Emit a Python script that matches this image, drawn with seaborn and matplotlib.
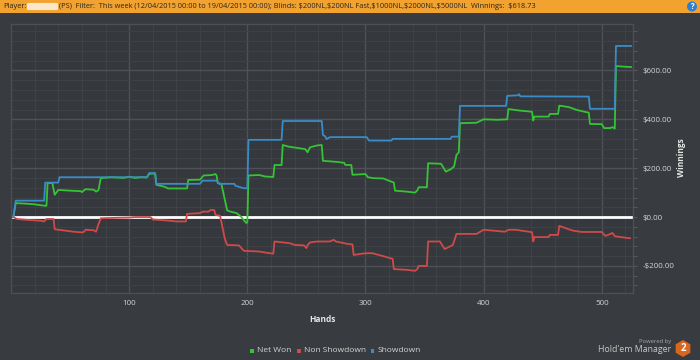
import matplotlib
matplotlib.use('Agg')
import matplotlib.pyplot as plt
from matplotlib.patches import Rectangle, RegularPolygon, Circle, FancyBboxPatch
from matplotlib.ticker import FuncFormatter, MultipleLocator
import pandas as pd
import seaborn as sns

# Net Won (green)
nw_hands = [0, 2, 4, 12, 20, 29, 30, 31, 35, 37, 40, 50, 59, 60, 63, 70, 72, 74, 76, 85, 95,
            100, 105, 110, 115, 117, 122, 123, 130, 133, 149, 150, 160, 163, 170, 173, 174,
            175, 178, 183, 186, 191, 195, 199, 200, 201, 210, 215, 222, 223, 229, 230, 235,
            249, 251, 253, 259, 263, 264, 270, 275, 282, 283, 288, 289, 300, 302, 307, 315,
            324, 325, 335, 342, 344, 345, 352, 353, 364, 368, 372, 375, 377, 379, 380, 394,
            400, 412, 420, 421, 430, 441, 442, 443, 455, 456, 463, 464, 472, 479, 489, 490,
            500, 502, 507, 509, 511, 512, 520, 525]
nw_vals = [0, 0, 57, 55, 52, 46, 46, 139, 139, 91, 111, 108, 106, 102, 114, 112, 104, 110, 159,
           163, 160, 165, 160, 163, 162, 177, 178, 132, 124, 117, 117, 152, 153, 170, 172, 176,
           170, 139, 136, 27, 22, 16, 0, -24, -22, 170, 172, 166, 164, 213, 213, 295, 288,
           278, 265, 285, 293, 295, 230, 228, 226, 222, 213, 213, 173, 176, 163, 159, 158,
           141, 108, 104, 100, 110, 122, 122, 220, 218, 186, 195, 207, 254, 265, 384, 386,
           400, 398, 400, 442, 436, 431, 395, 411, 411, 422, 422, 456, 450, 438, 427, 381,
           380, 364, 364, 368, 362, 618, 615, 614]

# Non Showdown (red)
ns_hands = [0, 2, 5, 15, 25, 28, 30, 36, 37, 45, 53, 60, 62, 63, 70, 72, 74, 76, 90, 100, 105,
            118, 120, 132, 140, 148, 149, 160, 162, 167, 169, 172, 173, 177, 181, 183, 193,
            197, 210, 215, 222, 223, 236, 240, 248, 250, 251, 253, 259, 270, 273, 275, 285,
            289, 290, 300, 306, 315, 323, 324, 335, 342, 344, 345, 352, 353, 363, 367, 370,
            374, 377, 394, 400, 418, 421, 427, 441, 442, 443, 455, 456, 463, 464, 472, 476,
            483, 500, 503, 507, 509, 511, 513, 524]
ns_vals = [0, 0, -8, -12, -15, -18, -8, -8, -50, -55, -60, -63, -60, -52, -54, -60, -30, -5,
           -3, -2, 0, 0, -10, -14, -18, -18, 13, 16, 22, 22, 29, 29, 9, 5, -90, -114, -116,
           -138, -141, -145, -150, -100, -107, -114, -116, -127, -115, -104, -100, -100, -93,
           -100, -110, -112, -155, -148, -148, -160, -171, -213, -216, -220, -212, -200, -200,
           -100, -100, -131, -124, -114, -69, -69, -52, -60, -52, -52, -62, -100, -82, -82,
           -73, -73, -36, -50, -56, -61, -61, -77, -70, -65, -78, -80, -87]

# Showdown (blue)
sd_hands = [0, 2, 4, 28, 29, 40, 41, 115, 117, 122, 123, 160, 162, 174, 176, 189, 190, 197,
            200, 201, 229, 230, 263, 264, 266, 267, 270, 301, 303, 322, 323, 372, 373, 379,
            380, 419, 420, 429, 430, 431, 489, 490, 511, 512, 525]
sd_vals = [0, 0, 67, 67, 141, 141, 163, 163, 180, 180, 136, 136, 149, 149, 136, 136, 128, 118,
           118, 316, 316, 393, 393, 336, 330, 319, 327, 327, 313, 313, 320, 320, 329, 329,
           455, 455, 496, 498, 503, 494, 493, 443, 443, 700, 700]

series = ['Net Won', 'Non Showdown', 'Showdown']
colors = ['#35c435', '#cf4a4a', '#3a8cc8']

title = ("(PS)  Filter:  This week (12/04/2015 00:00 to 19/04/2015 00:00); Blinds: "
         "$200NL,$200NL Fast,$1000NL,$2000NL,$5000NL  Winnings:  $618.73")

df = pd.concat([
    pd.DataFrame({'hand': nw_hands, 'value': nw_vals, 'series': series[0]}),
    pd.DataFrame({'hand': ns_hands, 'value': ns_vals, 'series': series[1]}),
    pd.DataFrame({'hand': sd_hands, 'value': sd_vals, 'series': series[2]}),
], ignore_index=True)

bg = '#383b3f'
sns.set_theme(style='dark', rc={'axes.facecolor': '#35383c', 'figure.facecolor': bg})
plt.rcParams['font.family'] = ['Open Sans', 'DejaVu Sans']

W, H = 700, 360
fig = plt.figure(figsize=(7, 3.6), dpi=100)
ax = fig.add_axes([11 / W, 1 - 293.3 / H, 621.5 / W, 269.3 / H])

ax.axhline(0, color='white', lw=2, zorder=1.8)
sns.lineplot(data=df, x='hand', y='value', hue='series', hue_order=series,
             palette=dict(zip(series, colors)), estimator=None, sort=False,
             legend=False, lw=1.3, ax=ax, zorder=2)

ax.set_xlim(0, 526)
ax.set_ylim(-312, 790)
ax.xaxis.set_major_locator(MultipleLocator(100))
ax.xaxis.set_minor_locator(MultipleLocator(20))
ax.yaxis.set_major_locator(MultipleLocator(200))
ax.yaxis.set_minor_locator(MultipleLocator(40))
ax.set_xticks([100, 200, 300, 400, 500])
ax.yaxis.set_major_formatter(FuncFormatter(
    lambda v, p: ('-\\$%.2f' % abs(v)) if v < 0 else ('\\$%.2f' % v)))
ax.set_axisbelow(True)
ax.grid(True, which='major', color='#4e5156', lw=1)
ax.grid(True, which='minor', color='#3f4246', lw=0.7)
ax.yaxis.tick_right()
ax.tick_params(axis='x', which='both', length=0, labelcolor='#d4d4d4', labelsize=5.8, pad=5)
ax.tick_params(axis='y', which='both', length=3, color='#55585d', width=0.8,
               labelcolor='#d4d4d4', labelsize=5.8, pad=4, right=True, left=False)
for s in ax.spines.values():
    s.set_color('#4c4f54')
    s.set_linewidth(1)
ax.set_xlabel('')
ax.set_ylabel('')


def fx(x):
    return x / W


def fy(y):
    return 1 - y / H


def inch(x, y):
    return x / 100, (H - y) / 100


# axis titles
fig.text(fx(322), fy(320), 'Hands', color='#e6e6e6', fontsize=6, fontweight='bold',
         ha='center', va='center')
fig.text(fx(682), fy(158), 'Winnings', color='#e6e6e6', fontsize=6, fontweight='bold',
         ha='center', va='center', rotation=90)

# header bar
fig.patches.append(Rectangle((0, fy(12.5)), 1, 12.5 / H, transform=fig.transFigure,
                             facecolor='#f2a22e', edgecolor='none'))
fig.text(fx(3.5), fy(6.5), 'Player:', color='#262626', fontsize=5.3, va='center')
fig.patches.append(FancyBboxPatch((fx(29), fy(9)), 27 / W, 5 / H, transform=fig.transFigure,
                                  boxstyle='round,pad=0.003', facecolor='#fbeedd',
                                  edgecolor='none', alpha=0.9))
fig.text(fx(59), fy(6.5), title, color='#262626', fontsize=5.3, va='center', parse_math=False)
fig.patches.append(Circle(inch(692, 6.5), 0.05, transform=fig.dpi_scale_trans,
                          facecolor='#2b7fd6', edgecolor='none'))
fig.text(fx(692), fy(6.5), '?', color='white', fontsize=5.5, fontweight='bold',
         ha='center', va='center')

# legend
leg_x = [250, 297, 370.5]
for lx, name, c in zip(leg_x, series, colors):
    fig.patches.append(Rectangle((fx(lx), fy(352.5)), 3.8 / W, 3.8 / H,
                                 transform=fig.transFigure, facecolor=c, edgecolor='none'))
    fig.text(fx(lx + 7), fy(350.7), name, color='#d4d4d4', fontsize=6, va='center')

# footer logo
fig.text(fx(671), fy(341.5), 'Powered by', color='#a8a8a8', fontsize=4.2, ha='right', va='center')
fig.text(fx(671), fy(350), "Hold'em Manager", color='#c8c8c8', fontsize=6.3, ha='right',
         va='center')
fig.patches.append(RegularPolygon(inch(683, 348.5), numVertices=6, radius=0.085,
                                  transform=fig.dpi_scale_trans, facecolor='#d9661f',
                                  edgecolor='none'))
fig.text(fx(683), fy(348.5), '2', color='white', fontsize=7, fontweight='bold',
         ha='center', va='center')

fig.savefig('out.png', dpi=100, facecolor=bg)
